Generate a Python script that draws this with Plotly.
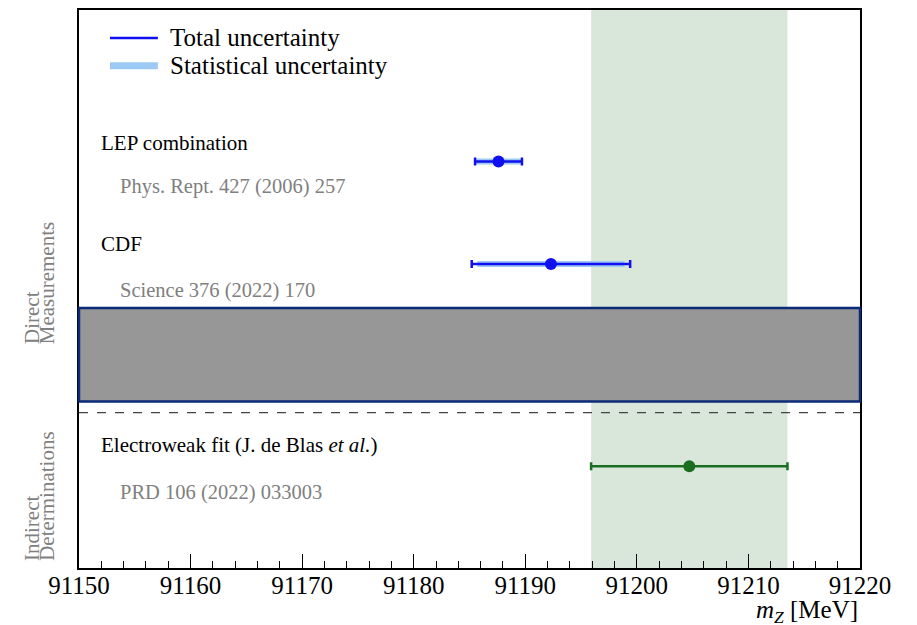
import plotly.graph_objects as go

# ---- data ----
names = ["LEP combination", "CDF", "Electroweak fit (J. de Blas <i>et al.</i>)"]
refs = ["Phys. Rept. 427 (2006) 257", "Science 376 (2022) 170", "PRD 106 (2022) 033003"]
mz = [91187.6, 91192.3, 91204.7]
tot_err = [2.1, 7.1, 8.8]
stat_err = [2.0, 6.6, None]
band_lo, band_hi = 91195.9, 91213.5
tick_vals = [91150, 91160, 91170, 91180, 91190, 91200, 91210, 91220]
tick_text = ["91150", "91160", "91170", "91180", "91190", "91200", "91210", "91220"]

# layout rows (vertical units, top=0)
row_pt = [15.2, 25.5, 45.8]
row_lbl = [13.3, 23.5, 43.7]
row_ref = [17.7, 28.1, 48.4]
box_y = (29.9, 39.3)
dash_y = 40.4

FONT = "Liberation Serif"
BLUE = "#1010ee"
LBLUE = "#9ccaf5"
GREEN = "#1b6e1f"

fig = go.Figure()

fig.add_trace(go.Scatter(
    x=mz[:2], y=row_pt[:2], mode="markers",
    marker=dict(size=1, color="rgba(0,0,0,0)"),
    error_x=dict(type="data", array=stat_err[:2], color=LBLUE, thickness=6, width=0),
    showlegend=False, hoverinfo="skip"))
fig.add_trace(go.Scatter(
    x=mz[:2], y=row_pt[:2], mode="markers",
    marker=dict(size=12, color=BLUE),
    error_x=dict(type="data", array=tot_err[:2], color=BLUE, thickness=2.5, width=4),
    showlegend=False))
fig.add_trace(go.Scatter(
    x=mz[2:], y=row_pt[2:], mode="markers",
    marker=dict(size=12, color=GREEN),
    error_x=dict(type="data", array=tot_err[2:], color=GREEN, thickness=2.5, width=4),
    showlegend=False))

shapes = [
    dict(type="rect", xref="x", yref="paper", x0=band_lo, x1=band_hi, y0=0, y1=1,
         fillcolor="#d9e7da", line=dict(width=0), layer="below"),
    dict(type="rect", xref="paper", yref="y", x0=0, x1=1, y0=box_y[0], y1=box_y[1],
         fillcolor="#979797", line=dict(color="#0b2a78", width=2.5), layer="above"),
    dict(type="line", xref="paper", yref="y", x0=0, x1=1, y0=dash_y, y1=dash_y,
         line=dict(color="#444444", width=1.3, dash="dash")),
    dict(type="line", xref="paper", yref="y", x0=0.0397, x1=0.101, y0=2.8, y1=2.8,
         line=dict(color=BLUE, width=2.5)),
    dict(type="line", xref="paper", yref="y", x0=0.0397, x1=0.101, y0=5.6, y1=5.6,
         line=dict(color=LBLUE, width=7)),
]

GRAY = "#808080"
ann = []
for n, r, yl, yr in zip(names, refs, row_lbl, row_ref):
    ann.append(dict(x=0.0255, y=yl, xref="paper", yref="y", text=n, showarrow=False,
                    xanchor="left", yanchor="middle", font=dict(family=FONT, size=21, color="black")))
    ann.append(dict(x=0.050, y=yr, xref="paper", yref="y", text=r, showarrow=False,
                    xanchor="left", yanchor="middle", font=dict(family=FONT, size=20.5, color=GRAY)))
ann += [
    dict(x=0.114, y=2.8, xref="paper", yref="y", text="Total uncertainty", showarrow=False,
         xanchor="left", yanchor="middle", font=dict(family=FONT, size=25, color="black")),
    dict(x=0.114, y=5.6, xref="paper", yref="y", text="Statistical uncertainty", showarrow=False,
         xanchor="left", yanchor="middle", font=dict(family=FONT, size=25, color="black")),
]
side = [("Direct", -0.0595, 0.398), ("Measurements", -0.0405, 0.398),
        ("Indirect", -0.0595, 0.009), ("Determinations", -0.0405, 0.009)]
for t, xx, yy in side:
    ann.append(dict(x=xx, y=yy, xref="paper", yref="paper", text=t, xanchor="center", yanchor="bottom",
                    textangle=-90, showarrow=False, font=dict(family=FONT, size=21, color=GRAY)))
ann.append(dict(x=1, y=-0.078, xref="paper", yref="paper", text="<i>m</i><sub><i>Z</i></sub> [MeV]",
                showarrow=False, xanchor="right", yanchor="middle",
                font=dict(family=FONT, size=25, color="black")))

fig.update_layout(
    width=917, height=625, margin=dict(l=79, r=57, t=8, b=57),
    plot_bgcolor="white", paper_bgcolor="white",
    font=dict(family=FONT, size=23, color="black"),
    shapes=shapes, annotations=ann,
    xaxis=dict(range=[91150, 91220], tickmode="array", tickvals=tick_vals, ticktext=tick_text,
               ticks="inside", ticklen=14, ticklabelstandoff=-6,
               tickwidth=1.2, tickcolor="black", showgrid=False, zeroline=False,
               showline=True, linecolor="black", linewidth=1.5, mirror=True,
               tickfont=dict(family=FONT, size=25, color="black"),
               minor=dict(dtick=2, tick0=91150, ticks="inside", ticklen=7, tickwidth=1,
                          tickcolor="black", showgrid=False)),
    yaxis=dict(range=[56, 0], showticklabels=False, showgrid=False, zeroline=False,
               tickvals=[dash_y], ticks="inside", ticklen=4, tickcolor="black",
               showline=True, linecolor="black", linewidth=1.5, mirror=True),
)

fig.write_html("out.html")
